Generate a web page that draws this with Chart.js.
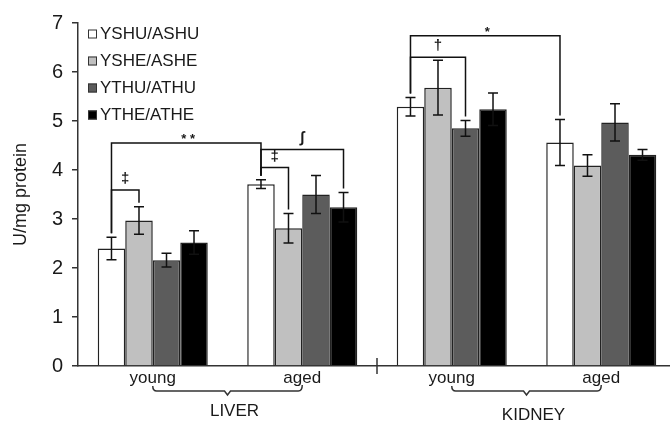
<!DOCTYPE html>
<html><head><meta charset="utf-8">
<script src="https://cdn.jsdelivr.net/npm/chart.js@4.4.1/dist/chart.umd.min.js"></script>
<style>
html,body{margin:0;padding:0;background:#fff;overflow:hidden;width:670px;height:423px}
#wrap{position:relative;width:680px;height:423px}
</style>
</head><body><div id="wrap"><canvas id="c"></canvas></div>
<script>
// ---- data ----
const categories = ['young', 'aged', 'young', 'aged'];
const groups = ['LIVER', 'KIDNEY'];
const groupSpans = [[0, 1], [2, 3]];
const seriesNames = ['YSHU/ASHU', 'YSHE/ASHE', 'YTHU/ATHU', 'YTHE/ATHE'];
const yshu = [2.40, 3.71, 5.29, 4.56];
const yshe = [2.97, 2.81, 5.68, 4.09];
const ythu = [2.16, 3.50, 4.85, 4.97];
const ythe = [2.52, 3.24, 5.24, 4.31];
const yshuErr = [0.23, 0.09, 0.19, 0.47];
const ysheErr = [0.28, 0.30, 0.56, 0.22];
const ythuErr = [0.14, 0.39, 0.16, 0.38];
const ytheErr = [0.24, 0.30, 0.33, 0.11];
const yTicks = [0, 1, 2, 3, 4, 5, 6, 7];
// significance brackets: [series, category] -> [series, category], level (U/mg protein), mark
const brackets = [
  { from: [0, 0], to: [1, 0], level: 3.59, mark: '‡' },
  { from: [0, 0], to: [0, 1], level: 4.55, mark: '* *' },
  { from: [0, 1], to: [1, 1], level: 4.05, mark: '‡' },
  { from: [0, 1], to: [3, 1], level: 4.42, mark: '∫' },
  { from: [0, 2], to: [2, 2], level: 6.30, mark: '†' },
  { from: [0, 2], to: [0, 3], level: 6.74, mark: '*' }
];

const values = [yshu, yshe, ythu, ythe];
const errors = [yshuErr, ysheErr, ythuErr, ytheErr];
const colors = ['#ffffff', '#c0c0c0', '#5c5c5c', '#000000'];
const FONT = '"Liberation Sans", Arial, sans-serif';
const INK = '#1a1a1a';

const decor = {
  id: 'decor',
  afterDatasetsDraw(chart) {
    const ctx = chart.ctx, ys = chart.scales.y;
    ctx.save();
    ctx.strokeStyle = '#111';
    ctx.lineWidth = 1.5;
    // error bars
    values.forEach((vals, ds) => {
      const meta = chart.getDatasetMeta(ds);
      vals.forEach((v, i) => {
        const px = meta.data[i].x;
        const t = ys.getPixelForValue(v + errors[ds][i]);
        const b = ys.getPixelForValue(v - errors[ds][i]);
        ctx.beginPath();
        ctx.moveTo(px, t); ctx.lineTo(px, b);
        ctx.moveTo(px - 5, t); ctx.lineTo(px + 5, t);
        ctx.moveTo(px - 5, b); ctx.lineTo(px + 5, b);
        ctx.stroke();
      });
    });
    // brackets
    brackets.forEach(br => {
      const x1 = chart.getDatasetMeta(br.from[0]).data[br.from[1]].x;
      const x2 = chart.getDatasetMeta(br.to[0]).data[br.to[1]].x;
      const yl = ys.getPixelForValue(br.level);
      const b1 = ys.getPixelForValue(values[br.from[0]][br.from[1]] + errors[br.from[0]][br.from[1]]) - 4;
      const b2 = ys.getPixelForValue(values[br.to[0]][br.to[1]] + errors[br.to[0]][br.to[1]]) - 4;
      ctx.beginPath();
      ctx.moveTo(x1, b1); ctx.lineTo(x1, yl); ctx.lineTo(x2, yl); ctx.lineTo(x2, b2);
      ctx.stroke();
      ctx.fillStyle = INK;
      const star = br.mark.indexOf('*') >= 0;
      ctx.font = (star ? 'bold 13px ' : 'bold 15px ') + FONT;
      ctx.textAlign = 'center';
      ctx.textBaseline = 'alphabetic';
      ctx.fillText(br.mark, (x1 + x2) / 2 + (star ? 2 : 0), yl - (star ? 0 : 7));
    });
    ctx.restore();
  },
  afterDraw(chart) {
    const ctx = chart.ctx, xs = chart.scales.x, area = chart.chartArea;
    ctx.save();
    // legend
    ctx.font = '17px ' + FONT;
    ctx.textAlign = 'left';
    ctx.textBaseline = 'middle';
    seriesNames.forEach((n, i) => {
      const cy = area.top + 11 + i * 27;
      ctx.fillStyle = colors[i];
      ctx.fillRect(area.left + 10, cy - 4.5, 9, 9);
      ctx.strokeStyle = '#333';
      ctx.lineWidth = 1;
      ctx.strokeRect(area.left + 10.5, cy - 4, 8, 8);
      ctx.fillStyle = INK;
      ctx.fillText(n, area.left + 22, cy);
    });
    // divider between organs
    ctx.strokeStyle = '#333';
    ctx.lineWidth = 1.5;
    const dx = (xs.getPixelForValue(1) + xs.getPixelForValue(2)) / 2;
    ctx.beginPath();
    ctx.moveTo(dx, area.bottom - 8); ctx.lineTo(dx, area.bottom + 8);
    ctx.stroke();
    // group braces + labels
    groups.forEach((g, k) => {
      const a = xs.getPixelForValue(groupSpans[k][0]);
      const b = xs.getPixelForValue(groupSpans[k][1]);
      const m = (a + b) / 2;
      const by = area.bottom + 25;
      ctx.beginPath();
      ctx.moveTo(a, by - 5);
      ctx.quadraticCurveTo(a, by, a + 4, by);
      ctx.lineTo(m - 3, by);
      ctx.lineTo(m, by + 4);
      ctx.lineTo(m + 3, by);
      ctx.lineTo(b - 4, by);
      ctx.quadraticCurveTo(b, by, b, by - 6);
      ctx.stroke();
      ctx.fillStyle = INK;
      ctx.font = '17px ' + FONT;
      ctx.textAlign = 'center';
      ctx.textBaseline = 'middle';
      ctx.fillText(g, m + 7, area.bottom + 45 + k * 4);
    });
    ctx.restore();
  }
};

new Chart(document.getElementById('c'), {
  type: 'bar',
  data: {
    labels: categories,
    datasets: seriesNames.map((n, i) => ({
      label: n,
      data: values[i],
      backgroundColor: colors[i],
      borderColor: '#222',
      borderWidth: 1.5,
      categoryPercentage: 0.736,
      barPercentage: 1.0
    }))
  },
  options: {
    responsive: true,
    maintainAspectRatio: false,
    animation: false,
    layout: { padding: { top: 23, right: 4, bottom: 0, left: 0 } },
    plugins: { legend: { display: false }, tooltip: { enabled: false } },
    scales: {
      x: {
        grid: { display: false, drawTicks: false },
        border: { display: true, color: '#333', width: 1.5 },
        ticks: { color: INK, font: { family: FONT, size: 17 }, padding: 2, maxRotation: 0 },
        afterFit(s) { s.height = 57; }
      },
      y: {
        min: 0, max: 7,
        afterBuildTicks(s) { s.ticks = yTicks.map(v => ({ value: v })); },
        grid: { display: true, drawOnChartArea: false, drawTicks: true, tickLength: 6, color: '#333', lineWidth: 1.5 },
        border: { display: true, color: '#333', width: 1.5 },
        ticks: { color: INK, font: { family: FONT, size: 20 }, padding: 9 },
        title: { display: true, text: 'U/mg protein', color: INK, font: { family: FONT, size: 18 }, padding: { top: 10, bottom: 0 } },
        afterFit(s) { s.width = 78; }
      }
    }
  },
  plugins: [decor]
});
</script>
</body></html>
